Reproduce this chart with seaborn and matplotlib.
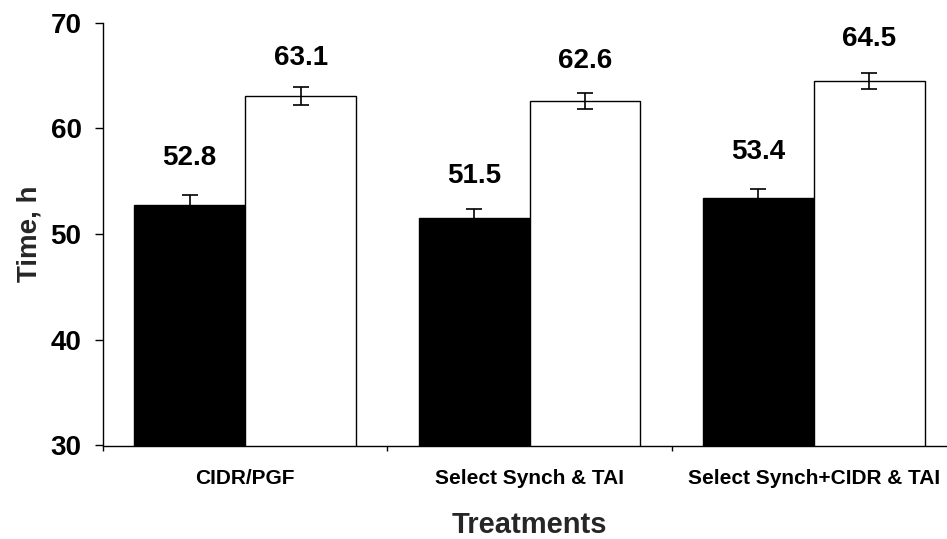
import matplotlib
matplotlib.use("Agg")
import matplotlib.pyplot as plt
import seaborn as sns
import pandas as pd

# ---- data ----
treatments = ["CIDR/PGF", "Select Synch & TAI", "Select Synch+CIDR & TAI"]
series_names = ["Series 1", "Series 2"]
series1_values = [52.8, 51.5, 53.4]
series2_values = [63.1, 62.6, 64.5]
series1_errors = [0.9, 0.9, 0.9]
series2_errors = [0.85, 0.75, 0.77]
y_ticks = [30, 40, 50, 60, 70]

# label heights above each bar (baseline offset, in data units)
label_offsets = [[3.75, 3.3, 3.7], [2.9, 3.15, 3.25]]

rows = []
for t, v in zip(treatments, series1_values):
    rows.append({"treatment": t, "series": series_names[0], "time": v})
for t, v in zip(treatments, series2_values):
    rows.append({"treatment": t, "series": series_names[1], "time": v})
df = pd.DataFrame(rows)

sns.set_style("ticks")
plt.rcParams["font.family"] = ["Liberation Sans", "DejaVu Sans"]
plt.rcParams["font.weight"] = "bold"
plt.rcParams["axes.labelweight"] = "bold"

fig = plt.figure(figsize=(9.47, 5.39), dpi=100)
ax = fig.add_axes([103 / 947, (539 - 445.5) / 539, 853 / 947, (445.5 - 22.7) / 539])

sns.barplot(data=df, x="treatment", y="time", hue="series", order=treatments,
            hue_order=series_names, palette=["black", "white"], edgecolor="black",
            linewidth=1.0, width=0.78, errorbar=None, legend=False, ax=ax,
            saturation=1)

values = [series1_values, series2_values]
errors = [series1_errors, series2_errors]
bar_containers = list(ax.containers)
for i, cont in enumerate(bar_containers):
    xs = [p.get_x() + p.get_width() / 2 for p in cont.patches]
    ax.errorbar(xs, values[i], yerr=errors[i], fmt="none", ecolor="black",
                elinewidth=1.2, capsize=5.8, capthick=1.2, zorder=5)
    for x, v, off in zip(xs, values[i], label_offsets[i]):
        ax.text(x, v + off, f"{v:.1f}", ha="center", va="baseline",
                fontsize=20, fontweight="bold", color="black")

ax.set_ylim(30, 70)
ax.set_xlim(-0.5, 2.5)
ax.set_yticks(y_ticks)
ax.set_yticklabels([str(t) for t in y_ticks], fontsize=20, fontweight="bold")
ax.set_xticks(range(len(treatments)))
ax.set_xticklabels(treatments, fontsize=15, fontweight="bold")
ax.set_xticks([-0.5, 0.5, 1.5, 2.5], minor=True)

ax.tick_params(axis="y", which="major", length=5.8, width=1.0, pad=9.6, colors="black")
ax.tick_params(axis="x", which="major", length=0, pad=17, colors="black")
ax.tick_params(axis="x", which="minor", length=3.6, width=1.0, direction="out", colors="black")

for side in ["top", "right"]:
    ax.spines[side].set_visible(False)
for side in ["left", "bottom"]:
    ax.spines[side].set_linewidth(1.0)
    ax.spines[side].set_color("black")

ax.set_ylabel("Time, h", fontsize=20, fontweight="bold")
ax.set_xlabel("Treatments", fontsize=21, fontweight="bold")
ax.yaxis.set_label_coords(-0.0705, 0.5)
ax.xaxis.set_label_coords(0.5, -0.156)

fig.savefig("out.png", dpi=100)
